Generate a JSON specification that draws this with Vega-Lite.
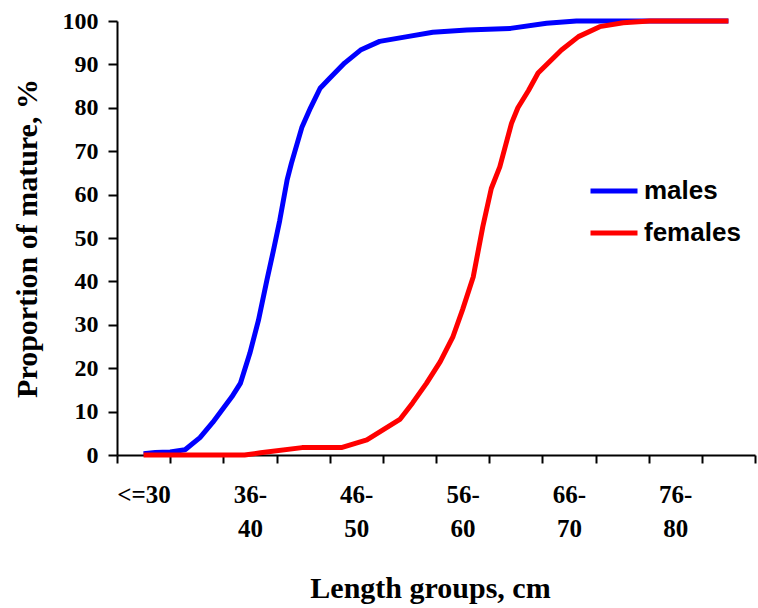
{
  "$schema": "https://vega.github.io/schema/vega-lite/v6.json",
  "width": 638,
  "height": 434,
  "autosize": {"type": "none"},
  "padding": {"left": 117, "top": 21, "right": 3, "bottom": 153},
  "background": "white",
  "config": {"view": {"stroke": null}},
  "data": {
    "values": [
      {"sex": "males", "length": 28, "pct": 0.3},
      {"sex": "males", "length": 29.1, "pct": 0.6},
      {"sex": "males", "length": 30.5, "pct": 0.7},
      {"sex": "males", "length": 31.9, "pct": 1.2},
      {"sex": "males", "length": 33.3, "pct": 4},
      {"sex": "males", "length": 34.5, "pct": 7.5},
      {"sex": "males", "length": 36.3, "pct": 13.4},
      {"sex": "males", "length": 37.1, "pct": 16.5},
      {"sex": "males", "length": 38.0, "pct": 23.5},
      {"sex": "males", "length": 38.8, "pct": 31},
      {"sex": "males", "length": 39.6, "pct": 40.3},
      {"sex": "males", "length": 40.2, "pct": 47},
      {"sex": "males", "length": 40.8, "pct": 54},
      {"sex": "males", "length": 41.5, "pct": 63.4},
      {"sex": "males", "length": 41.9, "pct": 67.2},
      {"sex": "males", "length": 42.9, "pct": 75.6},
      {"sex": "males", "length": 43.7, "pct": 80},
      {"sex": "males", "length": 44.6, "pct": 84.5},
      {"sex": "males", "length": 45.5, "pct": 86.8},
      {"sex": "males", "length": 46.9, "pct": 90.3},
      {"sex": "males", "length": 48.4, "pct": 93.3},
      {"sex": "males", "length": 50.2, "pct": 95.3},
      {"sex": "males", "length": 52.8, "pct": 96.4},
      {"sex": "males", "length": 55.2, "pct": 97.4},
      {"sex": "males", "length": 58.4, "pct": 97.9},
      {"sex": "males", "length": 62.5, "pct": 98.3},
      {"sex": "males", "length": 65.9, "pct": 99.5},
      {"sex": "males", "length": 68.7, "pct": 100},
      {"sex": "males", "length": 83, "pct": 100},
      {"sex": "females", "length": 28, "pct": 0},
      {"sex": "females", "length": 37.5, "pct": 0},
      {"sex": "females", "length": 39.0, "pct": 0.5},
      {"sex": "females", "length": 42.9, "pct": 1.7},
      {"sex": "females", "length": 46.6, "pct": 1.7},
      {"sex": "females", "length": 49.0, "pct": 3.5},
      {"sex": "females", "length": 52.1, "pct": 8.2},
      {"sex": "females", "length": 53.3, "pct": 12},
      {"sex": "females", "length": 54.6, "pct": 16.5},
      {"sex": "females", "length": 55.9, "pct": 21.5},
      {"sex": "females", "length": 57.1, "pct": 27.3},
      {"sex": "females", "length": 58.0, "pct": 33.5},
      {"sex": "females", "length": 59.0, "pct": 41},
      {"sex": "females", "length": 59.9, "pct": 52.6},
      {"sex": "females", "length": 60.7, "pct": 61.4},
      {"sex": "females", "length": 61.5, "pct": 66.4},
      {"sex": "females", "length": 62.6, "pct": 76.4},
      {"sex": "females", "length": 63.2, "pct": 80},
      {"sex": "females", "length": 64.2, "pct": 84},
      {"sex": "females", "length": 65.1, "pct": 88},
      {"sex": "females", "length": 67.3, "pct": 93.3},
      {"sex": "females", "length": 68.9, "pct": 96.4},
      {"sex": "females", "length": 70.9, "pct": 98.7},
      {"sex": "females", "length": 73.1, "pct": 99.6},
      {"sex": "females", "length": 75.6, "pct": 100},
      {"sex": "females", "length": 83, "pct": 100}
    ]
  },
  "mark": {"type": "line", "strokeWidth": 5, "strokeJoin": "round", "strokeCap": "butt"},
  "encoding": {
    "x": {
      "field": "length",
      "type": "quantitative",
      "scale": {"domain": [25.5, 85.5], "nice": false, "zero": false},
      "axis": {
        "title": "Length groups, cm",
        "values": [25.5, 28, 30.5, 35.5, 38, 40.5, 45.5, 48, 50.5, 55.5, 58, 60.5, 65.5, 68, 70.5, 75.5, 78, 80.5, 85.5],
        "labelExpr": "datum.value == 28 ? '<=30' : datum.value == 38 ? ['36-','40'] : datum.value == 48 ? ['46-','50'] : datum.value == 58 ? ['56-','60'] : datum.value == 68 ? ['66-','70'] : datum.value == 78 ? ['76-','80'] : ''",
        "tickOpacity": {"condition": {"test": "(datum.value - 25.5) % 5 != 0", "value": 0}, "value": 1},
        "grid": false,
        "domainColor": "black",
        "domainWidth": 2,
        "tickColor": "black",
        "tickWidth": 2,
        "tickSize": 8,
        "labelFont": "Liberation Serif",
        "labelFontWeight": "bold",
        "labelFontSize": 25,
        "labelColor": "black",
        "labelAlign": "center",
        "labelBaseline": "top",
        "labelLineHeight": 34,
        "labelPadding": 19,
        "labelOverlap": false,
        "labelFlush": false,
        "labelBound": false,
        "titleFont": "Liberation Serif",
        "titleFontWeight": "bold",
        "titleFontSize": 30,
        "titleColor": "black",
        "titlePadding": 32,
        "titleX": 313,
        "titleAlign": "center"
      }
    },
    "y": {
      "field": "pct",
      "type": "quantitative",
      "scale": {"domain": [0, 100], "nice": false},
      "axis": {
        "title": "Proportion of mature, %",
        "values": [0, 10, 20, 30, 40, 50, 60, 70, 80, 90, 100],
        "grid": false,
        "domainColor": "black",
        "domainWidth": 2,
        "tickColor": "black",
        "tickWidth": 2,
        "tickSize": 9,
        "labelFont": "Liberation Serif",
        "labelFontWeight": "bold",
        "labelFontSize": 24,
        "labelColor": "black",
        "labelPadding": 10,
        "titleFont": "Liberation Serif",
        "titleFontWeight": "bold",
        "titleFontSize": 30,
        "titleColor": "black",
        "titlePadding": 20
      }
    },
    "color": {
      "field": "sex",
      "type": "nominal",
      "scale": {"domain": ["males", "females"], "range": ["#0000FF", "#FF0000"]},
      "legend": {
        "title": null,
        "orient": "none",
        "legendX": 471,
        "legendY": 144,
        "padding": 0,
        "symbolType": "stroke",
        "symbolSize": 2209,
        "symbolStrokeWidth": 5,
        "labelFont": "Liberation Sans",
        "labelFontWeight": "bold",
        "labelFontSize": 26,
        "labelColor": "black",
        "labelOffset": 4,
        "rowPadding": 3
      }
    }
  }
}
